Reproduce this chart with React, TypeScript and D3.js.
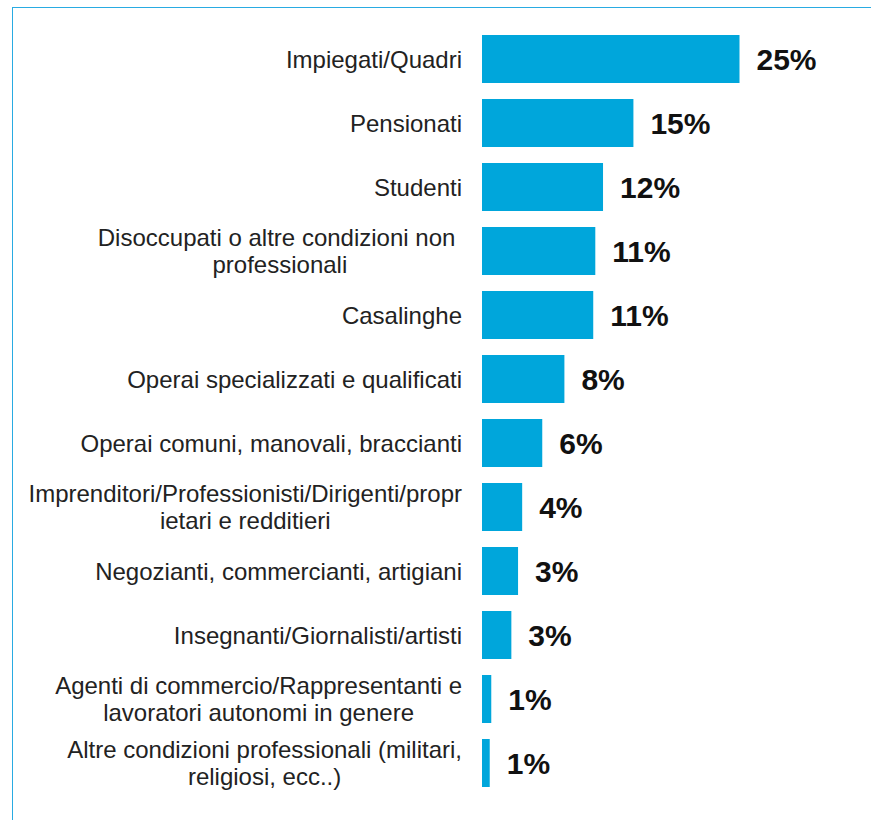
import React, { useEffect, useRef } from "react";
import * as d3 from "d3";

const categories: string[][] = [
  ["Impiegati/Quadri"],
  ["Pensionati"],
  ["Studenti"],
  ["Disoccupati o altre condizioni non ", "professionali"],
  ["Casalinghe"],
  ["Operai specializzati e qualificati"],
  ["Operai comuni, manovali, braccianti"],
  ["Imprenditori/Professionisti/Dirigenti/propr", "ietari e redditieri"],
  ["Negozianti, commercianti, artigiani"],
  ["Insegnanti/Giornalisti/artisti"],
  ["Agenti di commercio/Rappresentanti e", "lavoratori autonomi in genere"],
  ["Altre condizioni professionali (militari,", "religiosi, ecc..)"],
];
const values: number[] = [25, 14.7, 11.75, 11.0, 10.8, 8.0, 5.85, 3.9, 3.5, 2.85, 0.9, 0.75];
const valueLabels: string[] = ["25%", "15%", "12%", "11%", "11%", "8%", "6%", "4%", "3%", "3%", "1%", "1%"];

const W = 871;
const H = 820;
const BAR = "#00a6db";
const BORDER = "#29abe2";
const TEXT = "#222222";
const FONT = "'Liberation Sans', Arial, sans-serif";

export default function App() {
  const ref = useRef<SVGSVGElement | null>(null);

  useEffect(() => {
    document.body.style.margin = "0";
    const svg = d3.select(ref.current);
    svg.selectAll("*").remove();

    const idx = categories.map((_, i) => String(i));
    const y = d3.scaleBand<string>().domain(idx).range([27, 795]).paddingInner(0.25).paddingOuter(0.125);
    const x = d3.scaleLinear().domain([0, 25]).range([482, 739.5]);

    // frame
    svg.append("line").attr("x1", 12.5).attr("x2", 12.5).attr("y1", 7).attr("y2", H)
      .attr("stroke", BORDER).attr("stroke-width", 1);
    svg.append("line").attr("x1", 12).attr("x2", W).attr("y1", 7.5).attr("y2", 7.5)
      .attr("stroke", BORDER).attr("stroke-width", 1);

    const g = svg.append("g");
    g.selectAll("rect.bar").data(values).enter().append("rect")
      .attr("class", "bar")
      .attr("x", x(0))
      .attr("y", (_, i) => y(String(i)) as number)
      .attr("width", (d) => x(d) - x(0))
      .attr("height", y.bandwidth())
      .attr("fill", BAR);

    g.selectAll("text.val").data(values).enter().append("text")
      .attr("class", "val")
      .attr("x", (d) => x(d) + 17)
      .attr("y", (_, i) => (y(String(i)) as number) + y.bandwidth() / 2)
      .attr("dy", "0.35em")
      .attr("font-family", FONT)
      .attr("font-weight", "bold")
      .attr("font-size", 30)
      .attr("fill", "#111")
      .text((_, i) => valueLabels[i]);

    const right = 462;
    const lineH = 26.5;
    categories.forEach((lines, i) => {
      const cy = (y(String(i)) as number) + y.bandwidth() / 2;
      const grp = g.append("g");
      const texts = lines.map((ln, j) =>
        grp.append("text")
          .attr("y", cy + (j - (lines.length - 1) / 2) * lineH)
          .attr("dy", "0.36em")
          .attr("font-family", FONT)
          .attr("font-size", 24)
          .attr("fill", TEXT)
          .attr("text-anchor", "middle")
          .style("white-space", "pre")
          .text(ln)
      );
      const wmax = d3.max(texts, (t) => (t.node() as SVGTextElement).getComputedTextLength()) || 0;
      texts.forEach((t) => t.attr("x", right - wmax / 2));
    });
  }, []);

  return <svg ref={ref} width={W} height={H} style={{ display: "block" }} />;
}
